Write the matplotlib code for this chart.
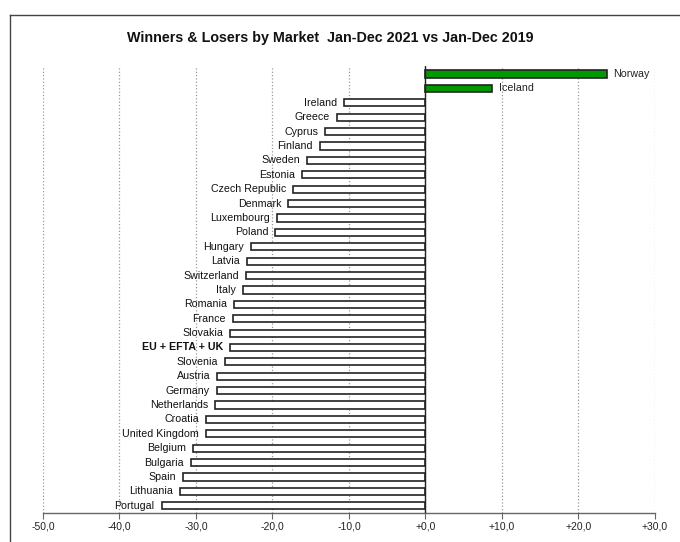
import matplotlib
matplotlib.use("Agg")
import matplotlib.pyplot as plt
import numpy as np

plt.rcParams['font.family'] = ['Liberation Sans', 'DejaVu Sans']

# Markets, top to bottom
markets = ["Norway", "Iceland", "Ireland", "Greece", "Cyprus", "Finland", "Sweden",
           "Estonia", "Czech Republic", "Denmark", "Luxembourg", "Poland", "Hungary",
           "Latvia", "Switzerland", "Italy", "Romania", "France", "Slovakia",
           "EU + EFTA + UK", "Slovenia", "Austria", "Germany", "Netherlands", "Croatia",
           "United Kingdom", "Belgium", "Bulgaria", "Spain", "Lithuania", "Portugal"]

# % change Jan-Dec 2021 vs Jan-Dec 2019
change = [23.7, 8.7, -10.7, -11.6, -13.1, -13.8, -15.5,
          -16.1, -17.3, -17.9, -19.4, -19.6, -22.8,
          -23.3, -23.5, -23.9, -25.0, -25.2, -25.5,
          -25.5, -26.2, -27.2, -27.3, -27.5, -28.7,
          -28.7, -30.4, -30.7, -31.7, -32.1, -34.5]

ticks = [-50, -40, -30, -20, -10, 0, 10, 20, 30]

fig = plt.figure(figsize=(6.8, 5.42), dpi=100)
ax = fig.add_axes([0.0632, 0.0535, 0.8998, 0.8245])

y = np.arange(len(markets))
colors = ['#009900' if v > 0 else 'white' for v in change]
ax.barh(y, change, height=0.5, color=colors, edgecolor='#222222', linewidth=1.2, zorder=3)

for i, (name, v) in enumerate(zip(markets, change)):
    bold = name.startswith("EU")
    if v > 0:
        ax.text(v + 0.9, i, name, ha='left', va='center', fontsize=7.7, color='#222222')
    else:
        ax.text(v - 0.9, i, name, ha='right', va='center', fontsize=7.7,
                color='#111111', fontweight='bold' if bold else 'normal')

ax.set_xlim(-50, 30)
ax.set_ylim(len(markets) - 0.5, -0.55)
ax.axvline(0, color='#222222', linewidth=1.0, zorder=4)

ax.set_xticks(ticks)
ax.set_xticklabels([("+" if t >= 0 else "") + f"{t:.1f}".replace(".", ",") for t in ticks],
                   fontsize=7.5, color='#222222')
ax.set_yticks([])
ax.tick_params(axis='x', direction='out', length=4, color='#666666', pad=2)
ax.grid(axis='x', linestyle=':', color='#999999', linewidth=0.9, zorder=0)

for s in ['top', 'left', 'right']:
    ax.spines[s].set_visible(False)
ax.spines['bottom'].set_color('#666666')
ax.spines['bottom'].set_linewidth(1.0)

fig.text(0.486, 0.929, "Winners & Losers by Market  Jan-Dec 2021 vs Jan-Dec 2019",
         ha='center', va='center', fontsize=10.3, fontweight='bold', color='#111111')

# outer frame (top and left edges)
fx, fy = 9.5 / 680, 1 - 14.5 / 542
fig.add_artist(plt.Line2D([fx, fx], [0, fy], transform=fig.transFigure,
                          color='#444444', linewidth=1.0))
fig.add_artist(plt.Line2D([fx, 1], [fy, fy], transform=fig.transFigure,
                          color='#444444', linewidth=1.0))

fig.savefig("out.png", dpi=100)
